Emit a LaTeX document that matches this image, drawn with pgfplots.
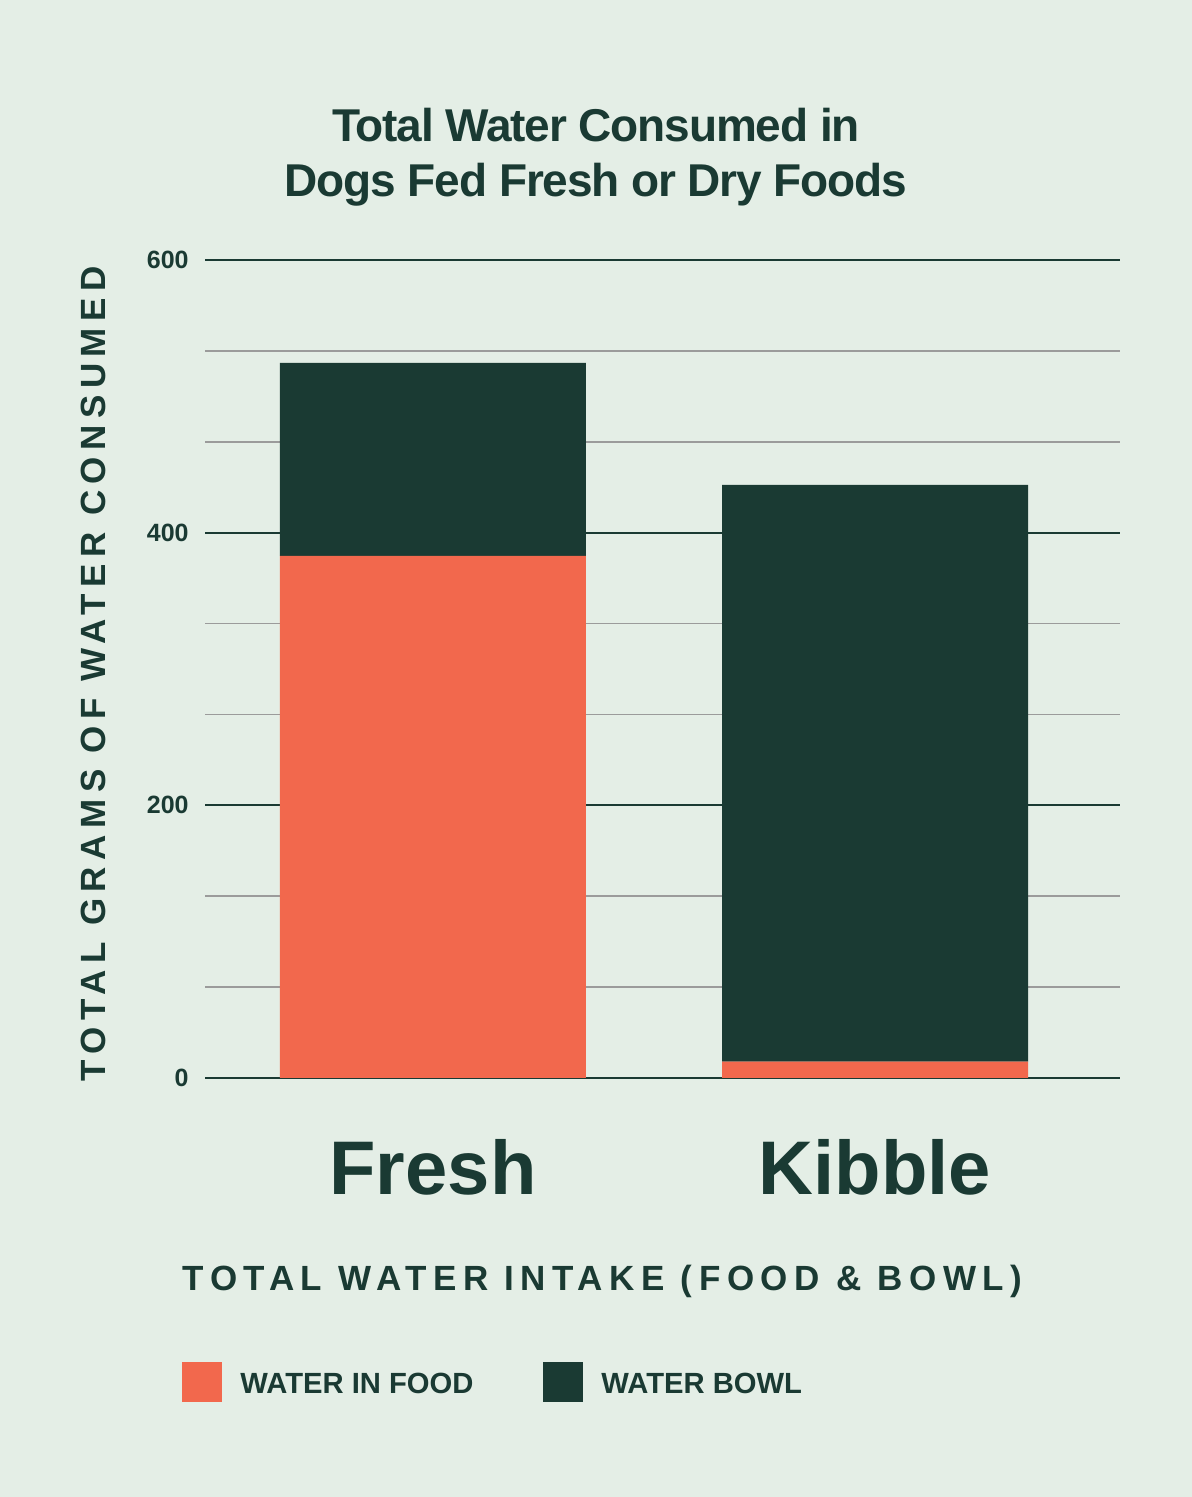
\documentclass[border=0pt]{standalone}
\usepackage{pgfplots}
\pgfplotsset{compat=1.18}
\usepackage{fontspec}
\setmainfont{Liberation Sans}
\newfontfamily\titlefont{Liberation Sans}[LetterSpace=-2.5]
\newfontfamily\trackfont{Liberation Sans}[LetterSpace=18.6]
\definecolor{bg}{HTML}{E4EEE6}
\definecolor{dkg}{HTML}{1A3A33}
\definecolor{org}{HTML}{F2684D}
\definecolor{grd}{HTML}{9B9B9B}
\begin{document}
\begin{tikzpicture}[x=1pt,y=1pt]
\fill[bg] (0,0) rectangle (596,748.5);
\node[anchor=base, text=dkg, inner sep=0pt, font=\titlefont\bfseries\fontsize{23}{23}\selectfont] at (298,677.5) {Total Water Consumed in};
\node[anchor=base, text=dkg, inner sep=0pt, font=\titlefont\bfseries\fontsize{23}{23}\selectfont] at (298,650) {Dogs Fed Fresh or Dry Foods};
\begin{axis}[
  at={(102.5pt,209.5pt)}, anchor=south west,
  scale only axis, width=457.5pt, height=409pt,
  ybar stacked, bar width=153pt,
  xmin=-0.5158, xmax=1.5543, ymin=0, ymax=600,
  clip=false,
  xtick={0,1}, xticklabels={Fresh,Kibble},
  ytick={0,200,400,600},
  minor ytick={66.667,133.333,266.667,333.333,466.667,533.333},
  ymajorgrids, yminorgrids,
  major grid style={dkg, line width=1pt},
  minor grid style={grd, line width=0.75pt},
  axis line style={draw=none},
  major tick length=0pt, minor tick length=0pt,
  tick style={draw=none},
  /pgf/number format/assume math mode=true,
  xticklabel style={font=\bfseries\fontsize{38}{38}\selectfont, text=dkg, anchor=base, inner sep=0pt, yshift=-58.5pt},
  yticklabel style={font=\bfseries\fontsize{12.5}{12.5}\selectfont, text=dkg, anchor=east, inner sep=0pt, xshift=-8pt},
  ylabel={TOTAL GRAMS OF WATER CONSUMED},
  ylabel style={font=\trackfont\bfseries\fontsize{17.5}{17.5}\selectfont, text=dkg, at={(axis description cs:-0.1224,0.494)}, anchor=center, inner sep=0pt},
  xlabel={TOTAL WATER INTAKE (FOOD \& BOWL)},
  xlabel style={font=\trackfont\bfseries\fontsize{17.5}{17.5}\selectfont, text=dkg, at={(axis description cs:0.4344,0)}, anchor=base, inner sep=0pt, yshift=-106.5pt},
  legend style={at={(axis description cs:-0.0251,-0.3715)}, anchor=west, draw=none, fill=none, inner sep=0pt,
    font=\bfseries\fontsize{14.6}{14.6}\selectfont, text=dkg,
    nodes={inner sep=0pt, yshift=4pt},
    /tikz/every odd column/.append style={column sep=9pt},
    /tikz/every even column/.append style={column sep=35pt}},
  legend columns=-1,
  legend image code/.code={\fill[#1] (0pt,-4.6pt) rectangle (20pt,15.4pt);},
]
\addplot[fill=org, draw=none] coordinates {(0,383) (1,12)};
\addplot[fill=dkg, draw=none] coordinates {(0,141.5) (1,423)};
\legend{WATER IN FOOD, WATER BOWL}
\end{axis}
\end{tikzpicture}
\end{document}
